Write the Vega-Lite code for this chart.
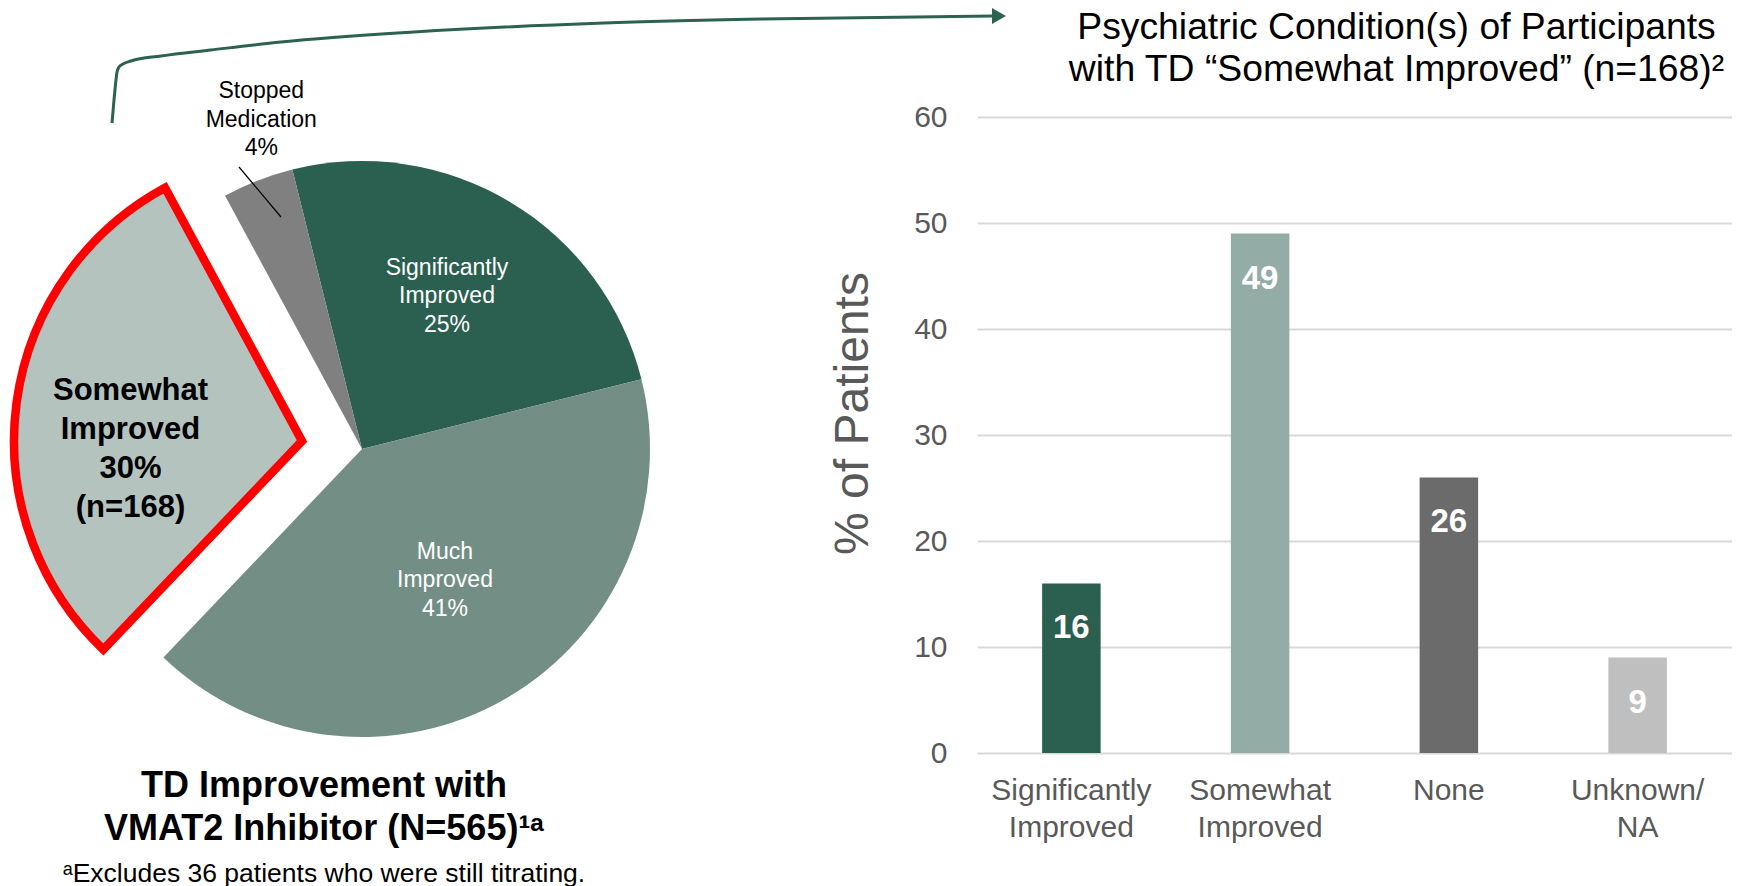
{
  "$schema": "https://vega.github.io/schema/vega-lite/v6.json",
  "background": "white",
  "padding": {"left": -3, "top": 7, "right": 0, "bottom": 0},
  "bounds": "flush",
  "spacing": 254,
  "config": {
    "view": {"stroke": null},
    "font": "Liberation Sans"
  },
  "resolve": {"scale": {"color": "independent", "x": "independent", "y": "independent", "theta": "independent"}},
  "datasets": {
    "pie": [
      {"cat": "Significantly Improved", "pct": 25, "ord": 1, "label": "Significantly\nImproved\n25%"},
      {"cat": "Much Improved", "pct": 41, "ord": 2, "label": "Much\nImproved\n41%"},
      {"cat": "Somewhat Improved", "pct": 30, "ord": 3, "label": "Somewhat\nImproved\n30%\n(n=168)"},
      {"cat": "Stopped Medication", "pct": 4, "ord": 4, "label": "Stopped\nMedication\n4%"}
    ],
    "connector": [
      {"px": 111, "py": 123}, {"px": 113, "py": 100}, {"px": 115, "py": 80}, {"px": 116, "py": 72},
      {"px": 118, "py": 67}, {"px": 122, "py": 64}, {"px": 130, "py": 61}, {"px": 160, "py": 56},
      {"px": 210, "py": 50}, {"px": 280, "py": 42}, {"px": 413, "py": 32}, {"px": 603, "py": 23},
      {"px": 760, "py": 19}, {"px": 992, "py": 16}
    ],
    "arrowhead": [{"px": 998, "py": 16}],
    "leader": [{"px": 238, "py": 167}, {"px": 280, "py": 217}],
    "bars": [
      {"cond": "Significantly Improved", "val": 16},
      {"cond": "Somewhat Improved", "val": 49},
      {"cond": "None", "val": 26},
      {"cond": "Unknown/NA", "val": 9}
    ]
  },
  "hconcat": [
    {
      "width": 722,
      "height": 664,
      "title": {
        "text": ["TD Improvement with", "VMAT2 Inhibitor (N=565)¹ᵃ"],
        "orient": "bottom",
        "anchor": "middle",
        "fontSize": 36,
        "fontWeight": "bold",
        "lineHeight": 43,
        "color": "black",
        "offset": -12,
        "dx": -38,
        "subtitle": "ᵃExcludes 36 patients who were still titrating.",
        "subtitleFontSize": 26.5,
        "subtitleColor": "black",
        "subtitlePadding": 13
      },
      "layer": [
        {
          "data": {"name": "pie"},
          "encoding": {
            "theta": {"field": "pct", "type": "quantitative", "stack": true, "scale": {"range": [-0.2443, 6.0389]}},
            "order": {"field": "ord", "type": "quantitative"}
          },
          "layer": [
            {
              "mark": {"type": "arc", "outerRadius": 288},
              "encoding": {
                "color": {"field": "cat", "type": "nominal", "legend": null,
                  "scale": {"domain": ["Significantly Improved", "Much Improved", "Somewhat Improved", "Stopped Medication"],
                            "range": ["#2B5F50", "#738F85", "#B5C3BF", "#808080"]}},
                "opacity": {"condition": {"test": "datum.cat === 'Somewhat Improved'", "value": 0}, "value": 1}
              }
            },
            {
              "mark": {"type": "arc", "outerRadius": 288, "xOffset": -60, "yOffset": -8, "stroke": "#FF0000", "strokeWidth": 8.5, "strokeJoin": "miter"},
              "encoding": {
                "color": {"field": "cat", "type": "nominal", "legend": null,
                  "scale": {"domain": ["Significantly Improved", "Much Improved", "Somewhat Improved", "Stopped Medication"],
                            "range": ["#2B5F50", "#738F85", "#B5C3BF", "#808080"]}},
                "opacity": {"condition": {"test": "datum.cat === 'Somewhat Improved'", "value": 1}, "value": 0}
              }
            },
            {
              "mark": {"type": "text", "radius": 165, "dy": -40, "fontSize": 23, "lineHeight": 28.5, "fill": "white", "lineBreak": "\n", "baseline": "middle"},
              "encoding": {
                "text": {"condition": {"test": "datum.cat === 'Significantly Improved' || datum.cat === 'Much Improved'", "field": "label"}, "value": ""}
              }
            },
            {
              "mark": {"type": "text", "radius": 171, "xOffset": -60, "yOffset": -8, "dy": -27, "dx": -2, "fontSize": 31, "fontWeight": "bold", "lineHeight": 39, "fill": "black", "lineBreak": "\n", "baseline": "middle"},
              "encoding": {
                "text": {"condition": {"test": "datum.cat === 'Somewhat Improved'", "field": "label"}, "value": ""}
              }
            },
            {
              "mark": {"type": "text", "radius": 345, "dx": 24, "dy": -36, "fontSize": 23, "lineHeight": 28.5, "fill": "black", "lineBreak": "\n", "baseline": "middle"},
              "encoding": {
                "text": {"condition": {"test": "datum.cat === 'Stopped Medication'", "field": "label"}, "value": ""}
              }
            }
          ]
        },
        {
          "data": {"name": "connector"},
          "mark": {"type": "line", "stroke": "#2D6152", "strokeWidth": 3, "interpolate": "monotone", "clip": false},
          "encoding": {
            "x": {"field": "px", "type": "quantitative", "axis": null, "scale": {"domain": [0, 722], "nice": false, "zero": false}},
            "y": {"field": "py", "type": "quantitative", "axis": null, "scale": {"domain": [117, 781], "reverse": true, "nice": false, "zero": false}}
          }
        },
        {
          "data": {"name": "arrowhead"},
          "mark": {"type": "point", "shape": "triangle-right", "filled": true, "size": 260, "color": "#2D6152", "opacity": 1},
          "encoding": {
            "x": {"field": "px", "type": "quantitative", "axis": null, "scale": {"domain": [0, 722], "nice": false, "zero": false}},
            "y": {"field": "py", "type": "quantitative", "axis": null, "scale": {"domain": [117, 781], "reverse": true, "nice": false, "zero": false}}
          }
        },
        {
          "data": {"name": "leader"},
          "mark": {"type": "line", "stroke": "black", "strokeWidth": 1.2},
          "encoding": {
            "x": {"field": "px", "type": "quantitative", "axis": null, "scale": {"domain": [0, 722], "nice": false, "zero": false}},
            "y": {"field": "py", "type": "quantitative", "axis": null, "scale": {"domain": [117, 781], "reverse": true, "nice": false, "zero": false}}
          }
        }
      ]
    },
    {
      "width": 755,
      "height": 636,
      "data": {"name": "bars"},
      "title": {
        "text": ["Psychiatric Condition(s) of Participants", "with TD “Somewhat Improved” (n=168)²"],
        "anchor": "middle",
        "dx": 42,
        "fontSize": 37.3,
        "fontWeight": "normal",
        "lineHeight": 42,
        "color": "black",
        "offset": 13
      },
      "encoding": {
        "x": {
          "field": "cond", "type": "nominal", "sort": null,
          "scale": {"paddingInner": 0, "paddingOuter": 0},
          "axis": {
            "title": null, "labelAngle": 0, "labelFontSize": 30, "labelColor": "#595959",
            "labelLineHeight": 37, "labelPadding": 22, "labelLimit": 0, "ticks": false, "domain": false,
            "labelExpr": "datum.value == 'Unknown/NA' ? ['Unknown/', 'NA'] : split(datum.value, ' ')"
          }
        },
        "y": {
          "field": "val", "type": "quantitative",
          "scale": {"domain": [0, 60], "nice": false},
          "axis": {
            "values": [0, 10, 20, 30, 40, 50, 60],
            "title": "% of Patients", "titleFontSize": 48, "titleFontWeight": "normal", "titleColor": "#595959", "titlePadding": 36,
            "titleY": 296,
            "labelFontSize": 30, "labelColor": "#595959", "labelPadding": 30,
            "ticks": false, "domain": false, "grid": true, "gridColor": "#D9D9D9", "gridWidth": 2
          }
        }
      },
      "layer": [
        {
          "mark": {"type": "bar", "width": {"band": 0.31}},
          "encoding": {
            "color": {"field": "cond", "type": "nominal", "legend": null,
              "scale": {"domain": ["Significantly Improved", "Somewhat Improved", "None", "Unknown/NA"],
                        "range": ["#2B5F50", "#93ADA6", "#6B6B6B", "#BFBFBF"]}}
          }
        },
        {
          "mark": {"type": "text", "fontSize": 33, "fontWeight": "bold", "fill": "white", "baseline": "middle", "dy": 45},
          "encoding": {"text": {"field": "val", "type": "quantitative"}}
        }
      ]
    }
  ]
}
